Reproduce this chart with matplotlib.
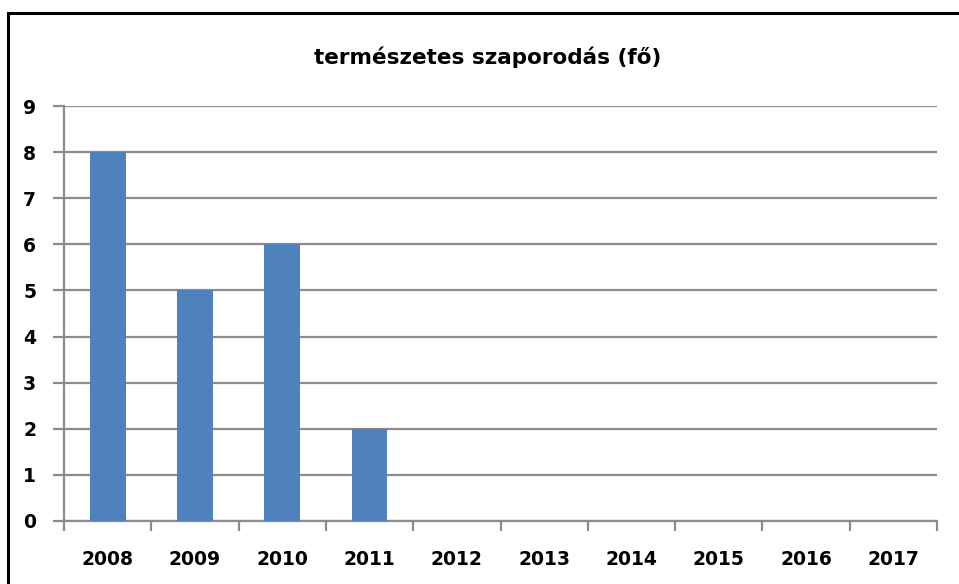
import numpy as np
import matplotlib
matplotlib.use('Agg')
import matplotlib.pyplot as plt
from matplotlib.patches import Rectangle

# data
years = ['2008', '2009', '2010', '2011', '2012', '2013', '2014', '2015', '2016', '2017']
values = [8, 5, 6, 2, 0, 0, 0, 0, 0, 0]
title = 'természetes szaporodás (fő)'

W, H = 959, 584
fig = plt.figure(figsize=(W/100, H/100), dpi=100)

# outer chart frame (only top/left visible, rest cropped)
fig.patches.append(Rectangle((8/W, -0.1), 1.2, 1 - 13/H + 0.1, transform=fig.transFigure,
                             fill=False, edgecolor='black', linewidth=2.2))

ax = fig.add_axes([64/W, 1 - 521/H, (937-64)/W, (521-106)/H])
x = np.arange(len(years))
ax.bar(x, values, width=0.41, color='#4F81BD', zorder=3)

ax.set_xlim(-0.5, len(years) - 0.5)
ax.set_ylim(0, 9)
ax.set_yticks(range(0, 10))
ax.yaxis.grid(True, color='#8c8c8c', linewidth=1.6)
ax.set_axisbelow(True)

for s in ['top', 'right']:
    ax.spines[s].set_visible(False)
ax.spines['left'].set_color('#8c8c8c')
ax.spines['bottom'].set_color('#8c8c8c')
ax.spines['left'].set_linewidth(1.6)
ax.spines['bottom'].set_linewidth(1.6)

ax.set_xticks(x)
ax.set_xticklabels(years, fontsize=13.5, fontweight='bold')
ax.set_xticks(np.arange(-0.5, len(years)), minor=True)
ax.tick_params(axis='x', which='major', length=0, pad=28)
ax.tick_params(axis='x', which='minor', length=7, width=1.6, color='#8c8c8c')
ax.tick_params(axis='y', length=8, width=1.6, color='#8c8c8c', labelsize=13.5, pad=12)
for lab in ax.get_yticklabels():
    lab.set_fontweight('bold')
for lab in ax.get_xticklabels():
    lab.set_verticalalignment('center')

fig.text(488/W, 1 - 57/H, title, ha='center', va='center', fontsize=15.5, fontweight='bold')

fig.savefig('out.png', dpi=100)
